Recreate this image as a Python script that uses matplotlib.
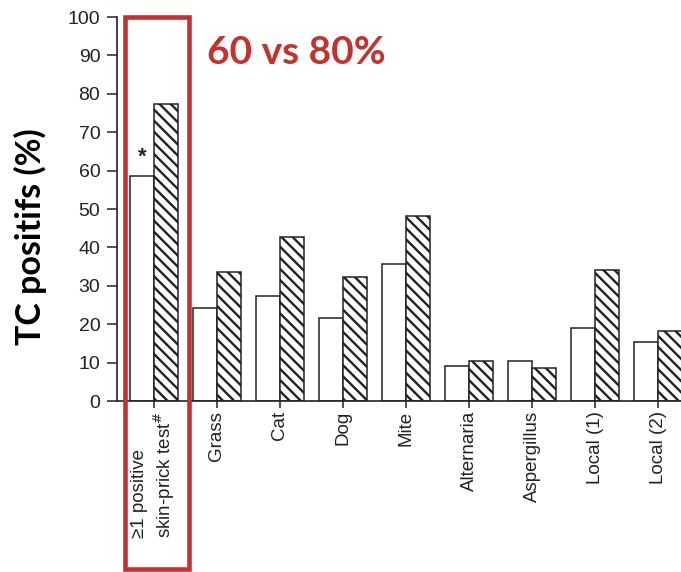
import numpy as np
import matplotlib.pyplot as plt
from matplotlib.patches import Rectangle

plt.rcParams['hatch.linewidth'] = 1.7

categories = ['\u22651 positive\nskin-prick test$^{\\#}$', 'Grass', 'Cat', 'Dog', 'Mite',
              'Alternaria', 'Aspergillus', 'Local (1)', 'Local (2)']
white_vals = [58.5, 24.3, 27.3, 21.7, 35.6, 9.1, 10.5, 18.9, 15.4]
hatch_vals = [77.3, 33.6, 42.7, 32.2, 48.2, 10.5, 8.5, 34.2, 18.1]

W, H = 681, 572
fig = plt.figure(figsize=(W / 100, H / 100), dpi=100)
ax = fig.add_axes([117 / W, (H - 401) / H, 1 - 117 / W, 384 / H])

x = np.arange(len(categories))
w = 0.38
ax.bar(x - w / 2, white_vals, w, color='white', edgecolor='#222222', linewidth=1.1)
ax.bar(x + w / 2, hatch_vals, w, color='white', edgecolor='#222222', linewidth=1.1,
       hatch='\\\\\\')

ax.text(x[0] - w / 2, white_vals[0] + 5, '*', ha='center', va='center',
        fontsize=16, fontweight='bold', color='#222222', family='Liberation Sans')

ax.set_xlim(-0.587, 8.365)
ax.set_ylim(0, 100)
ax.set_yticks(np.arange(0, 101, 10))
ax.set_xticks(x)
ax.set_xticklabels(categories, rotation=90, va='top', ha='center',
                   multialignment='left', family='Liberation Sans', fontsize=13.5,
                   color='#222222')
for lab in ax.get_yticklabels():
    lab.set_family('Liberation Sans')
    lab.set_fontsize(14)
    lab.set_color('#222222')
ax.tick_params(axis='y', length=7, width=1.1, pad=5, color='#222222')
ax.tick_params(axis='x', length=5, width=1.1, pad=2, color='#222222')
for s in ['top', 'right']:
    ax.spines[s].set_visible(False)
for s in ['left', 'bottom']:
    ax.spines[s].set_linewidth(1.2)
    ax.spines[s].set_color('#222222')

fig.text(30 / W, 1 - 237 / H, 'TC positifs (%)', rotation=90, ha='center', va='center',
         fontsize=24.5, fontweight='bold', color='black', family='Lato')
fig.text(207 / W, 1 - 53 / H, '60 vs 80%', ha='left', va='center',
         fontsize=28, fontweight='bold', color='#c9302c', family='Lato')

fig.patches.append(Rectangle((125 / W, (H - 569) / H), 64 / W, 552 / H,
                             transform=fig.transFigure, fill=False,
                             edgecolor='#c9302c', linewidth=3.3))

fig.savefig('out.png', dpi=100)
